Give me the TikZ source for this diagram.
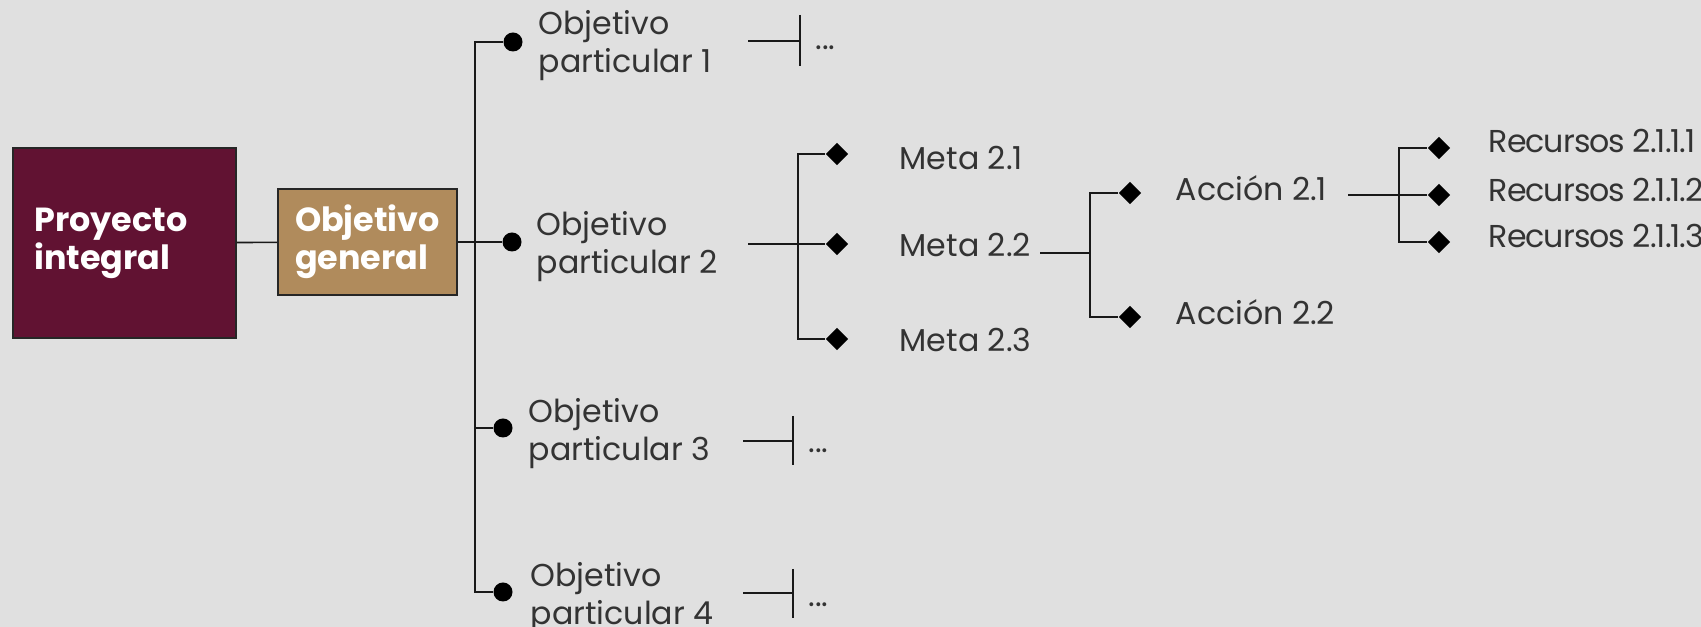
\documentclass[tikz,border=0pt]{standalone}
\usepackage{fontspec}
\setmainfont{Poppins}
\usetikzlibrary{shapes.geometric}

\definecolor{guinda}{HTML}{611232}
\definecolor{dorado}{HTML}{B08B5C}
\definecolor{fondo}{HTML}{E0E0E0}
\definecolor{gristexto}{HTML}{333333}

\tikzset{
  caja/.style={draw=black!85, line width=0.5pt, text=white, align=left, inner sep=0pt,
    font=\fontsize{9.5}{10.8}\selectfont\bfseries},
  texto/.style={text=gristexto, align=left, inner sep=0pt, font=\fontsize{9}{10.8}\selectfont},
  recurso/.style={texto, anchor=base west,
    font=\fontsize{9}{10.8}\selectfont\addfontfeatures{Numbers=Proportional, LetterSpace=-3}},
  punto/.style={circle, fill=black, inner sep=0pt, minimum size=1.9mm},
  rombo/.style={diamond, fill=black, inner sep=0pt, minimum size=2.3mm},
  linea/.style={draw=black!90, line width=0.45pt},
}

\begin{document}
\begin{tikzpicture}[x=0.1mm, y=-0.1mm]
  \fill[fondo] (0,0) rectangle (1701,627);
  \useasboundingbox (0,0) rectangle (1701,627);

  % main boxes
  \node[caja, fill=guinda, minimum width=22.3mm, minimum height=19mm, text width=18mm] (proy) at (124.5,243) {Proyecto\\integral};
  \node[caja, fill=dorado, minimum width=17.9mm, minimum height=10.6mm] (objgen) at (367.5,242) {Objetivo\\general};
  \draw[linea] (proy) -- (objgen);

  % particular objectives
  \node[punto] (op1dot) at (513,42) {};
  \node[punto] (op2dot) at (512,242) {};
  \node[punto] (op3dot) at (503,428) {};
  \node[punto] (op4dot) at (503,592) {};
  \node[texto, anchor=west] (op1) at (538,45.5) {Objetivo\\particular 1};
  \node[texto, anchor=west] (op2) at (536,247) {Objetivo\\particular 2};
  \node[texto, anchor=west] (op3) at (528,433.5) {Objetivo\\particular 3};
  \node[texto, anchor=west] (op4) at (530,598) {Objetivo\\particular 4};
  \coordinate (tronco) at (475,300);
  \draw[linea] (op1dot) -| (tronco) |- (op4dot);
  \draw[linea] (tronco |- op3dot) -- (op3dot);
  \draw[linea] (objgen) -- (op2dot);

  % cut branches
  \coordinate (op1s) at (748,41);
  \coordinate (op1t) at (800,41);
  \coordinate (op3s) at (743,441);
  \coordinate (op3t) at (793,441);
  \coordinate (op4s) at (743,593);
  \coordinate (op4t) at (793,593);
  \draw[linea] (op1s) -- (op1t);
  \draw[linea] ([yshift=2.6mm]op1t) -- ([yshift=-2.5mm]op1t);
  \draw[linea] (op3s) -- (op3t);
  \draw[linea] ([yshift=2.5mm]op3t) -- ([yshift=-2.4mm]op3t);
  \draw[linea] (op4s) -- (op4t);
  \draw[linea] ([yshift=2.4mm]op4t) -- ([yshift=-2.5mm]op4t);
  \node[texto, anchor=base west] (op1mas) at (815,50) {...};
  \node[texto, anchor=base west] (op3mas) at (808,453) {...};
  \node[texto, anchor=base west] (op4mas) at (808,607) {...};

  % metas
  \node[rombo] (m1d) at (837,154) {};
  \node[rombo] (m2d) at (837,244) {};
  \node[rombo] (m3d) at (837,339) {};
  \node[texto, anchor=base west] (meta1) at (899,170) {Meta 2.1};
  \node[texto, anchor=base west] (meta2) at (899,257) {Meta 2.2};
  \node[texto, anchor=base west] (meta3) at (899,352) {Meta 2.3};
  \coordinate (op2s) at (748,244);
  \coordinate (mbr) at (798,244);
  \draw[linea] (op2s) -- (m2d);
  \draw[linea] (m1d) -| (mbr) |- (m3d);

  % acciones
  \node[rombo] (a1d) at (1130,193) {};
  \node[rombo] (a2d) at (1130,317) {};
  \node[texto, anchor=base west] (acc1) at (1175,201) {Acción 2.1};
  \node[texto, anchor=base west] (acc2) at (1175,325) {Acción 2.2};
  \coordinate (m2s) at (1040,253);
  \coordinate (abr) at (1090,253);
  \draw[linea] (m2s) -- (abr);
  \draw[linea] (a1d) -| (abr) |- (a2d);

  % recursos
  \node[rombo] (r1d) at (1439,148) {};
  \node[rombo] (r2d) at (1439,195) {};
  \node[rombo] (r3d) at (1439,242) {};
  \node[recurso] (rec1) at (1488,153) {Recursos 2.1.1.1};
  \node[recurso] (rec2) at (1488,202) {Recursos 2.1.1.2};
  \node[recurso] (rec3) at (1488,248) {Recursos 2.1.1.3};
  \coordinate (a1s) at (1348,195);
  \coordinate (rbr) at (1399,195);
  \draw[linea] (a1s) -- (r2d);
  \draw[linea] (r1d) -| (rbr) |- (r3d);
\end{tikzpicture}
\end{document}
